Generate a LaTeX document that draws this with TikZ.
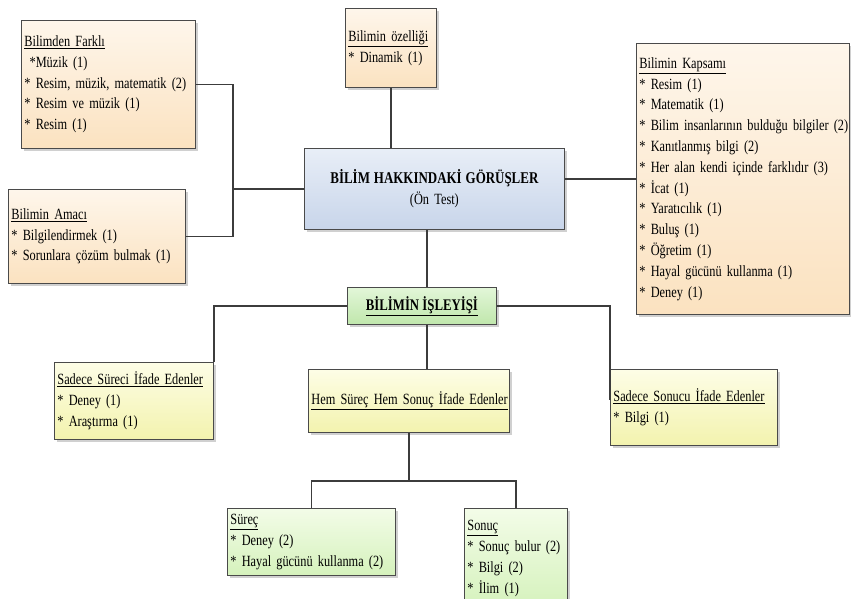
\documentclass[tikz,border=0pt]{standalone}
\usepackage{fontspec}
\setmainfont{Liberation Serif}[FakeStretch=0.79]
\usetikzlibrary{shadows}
\definecolor{boxline}{HTML}{4A4A4A}
\definecolor{connc}{HTML}{3C3C3C}
\definecolor{peachT}{HTML}{FEF6EB}
\definecolor{peachB}{HTML}{FBE2C0}
\definecolor{blueT}{HTML}{E8EEF7}
\definecolor{blueB}{HTML}{C8D5EA}
\definecolor{greenT}{HTML}{E2F6D8}
\definecolor{greenB}{HTML}{C0E7AC}
\definecolor{yelT}{HTML}{FDFDE6}
\definecolor{yelB}{HTML}{F3F3AE}
\definecolor{lgT}{HTML}{F3FCE8}
\definecolor{lgB}{HTML}{D5F2BC}
\newcommand{\itm}{\\{}* }
\newcommand{\tightsp}{\spaceskip 3.2pt plus 1pt minus 0.5pt\relax}
\newcommand{\boxfont}{\fontsize{15.6}{20.8}\selectfont\tightsp}
\tikzset{
  bx/.style={draw=boxline, line width=0.8pt, inner xsep=3pt, inner ysep=0pt,
    align=left, anchor=north west, font=\boxfont,
    drop shadow={shadow xshift=3pt, shadow yshift=-3pt, fill=black!30, opacity=0.6}},
  peach/.style={top color=peachT, bottom color=peachB},
  bluebox/.style={top color=blueT, bottom color=blueB},
  greenbox/.style={top color=greenT, bottom color=greenB},
  yelbox/.style={top color=yelT, bottom color=yelB},
  lgbox/.style={top color=lgT, bottom color=lgB},
  conn/.style={draw=connc, line width=1.5pt},
}
\begin{document}
\begin{tikzpicture}[x=1pt,y=-1pt]
\clip (0,0) rectangle (851,599);
\fill[white] (0,0) rectangle (851,599);

\node[bx, peach, minimum width=174pt, minimum height=128pt, text width=168pt] (farkli) at (21,20)
 {\underline{Bilimden Farklı}\\{}\ *Müzik (1)\itm Resim, müzik, matematik (2)\itm Resim ve müzik (1)\itm Resim (1)};

\node[bx, peach, minimum width=91pt, minimum height=79pt, text width=85pt] (ozel) at (345,8)
 {\underline{Bilimin özelliği}\itm Dinamik (1)};

\node[bx, bluebox, align=center, minimum width=260pt, minimum height=81pt, text width=254pt] (merkez) at (304,148)
 {{\fontsize{16.4}{20.8}\selectfont\tightsp\bfseries BİLİM HAKKINDAKİ GÖRÜŞLER}\\ (Ön Test)};

\node[bx, peach, minimum width=177pt, minimum height=94pt, text width=171pt] (amac) at (8,189)
 {\underline{Bilimin Amacı}\itm Bilgilendirmek (1)\itm Sorunlara çözüm bulmak (1)};

\node[bx, peach, minimum width=213pt, minimum height=271pt, text width=207pt] (kapsam) at (636,43)
 {\underline{Bilimin Kapsamı}\itm Resim (1)\itm Matematik (1)\\{}\mbox{* Bilim insanlarının bulduğu bilgiler (2)}\itm Kanıtlanmış bilgi (2)\itm Her alan kendi içinde farklıdır (3)\itm İcat (1)\itm Yaratıcılık (1)\itm Buluş (1)\itm Öğretim (1)\itm Hayal gücünü kullanma (1)\itm Deney (1)};

\node[bx, greenbox, align=center, minimum width=149pt, minimum height=37pt, text width=143pt] (isleyis) at (347,287)
 {\underline{\fontsize{16.2}{20.8}\selectfont\tightsp\bfseries BİLİMİN İŞLEYİŞİ}};

\node[bx, yelbox, minimum width=159pt, minimum height=77pt, text width=153pt] (suresi) at (54,362)
 {\underline{Sadece Süreci İfade Edenler}\itm Deney (1)\itm Araştırma (1)};

\node[bx, yelbox, minimum width=201pt, minimum height=63pt, text width=195pt] (hem) at (308,369)
 {\underline{Hem Süreç Hem Sonuç İfade Edenler}};

\node[bx, yelbox, minimum width=167pt, minimum height=76pt, text width=161pt] (sonucu) at (610,369)
 {\underline{Sadece Sonucu İfade Edenler}\itm Bilgi (1)};

\node[bx, lgbox, minimum width=168pt, minimum height=67pt, text width=162pt] (surec) at (227,508)
 {\underline{Süreç}\itm Deney (2)\itm Hayal gücünü kullanma (2)};

\node[bx, lgbox, minimum width=103pt, minimum height=100pt, text width=97pt] (sonuc) at (464,508)
 {\underline{Sonuç}\itm Sonuç bulur (2)\itm Bilgi (2)\itm İlim (1)};

% connectors
\coordinate (jl) at (233,0);
\coordinate (jc) at (427,0);
\draw[conn] (ozel.south) -- (ozel.south |- merkez.north);
\draw[conn] (farkli.east) -| (jl |- amac.east) -- (amac.east);
\draw[conn] (merkez.west) -- (merkez.west -| jl);
\draw[conn] (kapsam.west) -- (kapsam.west -| merkez.east);
\draw[conn] (jc |- merkez.south) -- (jc |- isleyis.north);
\draw[conn] (jc |- isleyis.south) -- (jc |- hem.north);
\draw[conn] (isleyis.west) -| (suresi.north east);
\draw[conn] (isleyis.east) -| ([yshift=7pt]sonucu.west);
\coordinate (jb) at ([yshift=-48pt]hem.south);
\draw[conn] (hem.south) -- (jb);
\draw[conn] (surec.north) |- (jb) -| (sonuc.north);
\end{tikzpicture}
\end{document}
